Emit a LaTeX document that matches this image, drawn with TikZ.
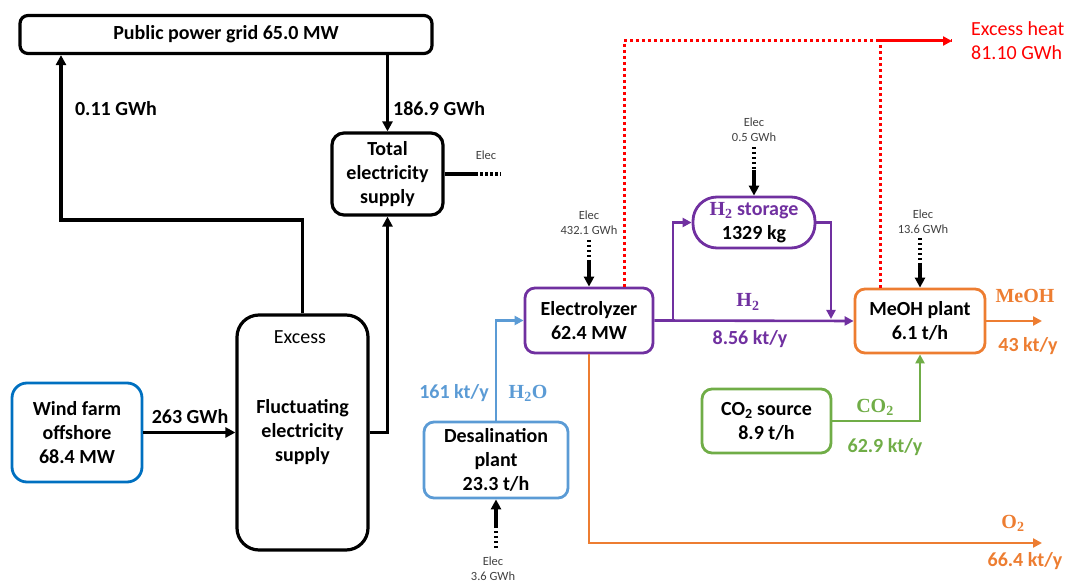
\documentclass[tikz,border=0pt]{standalone}
\usepackage{fontspec}
\setmainfont{Carlito}
\newfontfamily\chemfont{Liberation Serif}
\usetikzlibrary{arrows.meta}
\definecolor{cblue}{RGB}{0,112,192}
\definecolor{lblue}{RGB}{91,155,213}
\definecolor{cpurple}{RGB}{112,48,160}
\definecolor{corange}{RGB}{237,125,49}
\definecolor{cgreen}{RGB}{112,173,71}
\definecolor{cred}{RGB}{255,0,0}
\definecolor{cgray}{RGB}{64,64,64}
\newcommand{\chem}[1]{{\chemfont\bfseries #1}}
\begin{document}
\begin{tikzpicture}[x=1pt,y=-1pt,
  box/.style={draw, line width=3.2pt, rounded corners=10pt, align=center,
    font=\fontsize{20}{24}\selectfont\bfseries, inner sep=0pt},
  cbox/.style={box, line width=2.8pt},
  lbl/.style={font=\fontsize{20}{24}\selectfont\bfseries, inner sep=0pt},
  clbl/.style={font=\fontsize{20}{24}\selectfont, inner sep=0pt},
  elabel/.style={font=\fontsize{12.5}{15}\selectfont, text=cgray, align=center, inner sep=0pt},
  blk/.style={line width=3.2pt, -{Triangle[length=10pt,width=10pt]}},
  blkline/.style={line width=3.2pt},
  col/.style={line width=2.6pt, -{Triangle[length=9pt,width=9pt]}},
  dotln/.style={line width=3.2pt, dash pattern=on 2.5pt off 2.5pt},
  reddot/.style={line width=3pt, cred, dash pattern=on 3pt off 3pt},
]
\useasboundingbox (0,0) rectangle (1072,585);

% boxes
\node[box, rounded corners=8pt, minimum width=412pt, minimum height=38pt] (grid) at (226,34.5) {Public power grid 65.0 MW};
\node[box, rounded corners=12pt, minimum width=111pt, minimum height=82pt] (total) at (387.5,174) {Total\\electricity\\supply};
\node[box, rounded corners=22pt, minimum width=131pt, minimum height=235pt] (fluct) at (302.5,432.5) {Fluctuating\\electricity\\supply};
\node[clbl] (excess) at (300,337) {Excess};
\node[cbox, draw=cblue, rounded corners=15pt, minimum width=130pt, minimum height=99pt] (wind) at (77,432.5) {Wind farm\\offshore\\68.4 MW};
\node[cbox, draw=lblue, minimum width=144pt, minimum height=76pt] (desal) at (496,460) {Desalination\\plant\\23.3 t/h};
\node[cbox, draw=cpurple, minimum width=128pt, minimum height=65pt] (elec) at (589,320.5) {Electrolyzer\\62.4 MW};
\node[cbox, draw=cpurple, rounded corners=24pt, minimum width=122pt, minimum height=51pt] (h2s) at (754,222.5) {\textcolor{cpurple}{\chem{H\textsubscript{2}} storage}\\1329 kg};
\node[cbox, draw=corange, minimum width=130pt, minimum height=64pt] (meoh) at (920,321) {MeOH plant\\6.1 t/h};
\node[cbox, draw=cgreen, minimum width=129pt, minimum height=64pt] (co2) at (766.5,421) {CO\textsubscript{2} source\\8.9 t/h};

% black connectors
\coordinate (g1) at (61,220);
\draw[blk] (fluct.north) |- (g1) -- (g1 |- grid.south);
\draw[blk] (grid.south -| total.north) -- (total.north);
\draw[blk] (fluct.east) -| (total.south);
\draw[blk] (wind.east) -- (fluct.west);
\coordinate (te1) at (475,174);
\coordinate (te2) at (501,174);
\draw[blkline] (total.east) -- (te1);
\draw[dotln] (te1) -- (te2);
\node[elabel] (telab) at (486,155) {Elec};

% labels black
\node[lbl] (l011) at (116,109) {0.11 GWh};
\node[lbl, anchor=west] (l1869) at (393,109) {186.9 GWh};
\node[lbl] (l263) at (190,417) {263 GWh};

% colored connectors
\draw[col, lblue] (desal.north) |- (elec.west);
\draw[col, cpurple] (elec.east) -- (meoh.west);
\coordinate (j) at (673,320.5);
\draw[col, cpurple] (j) |- (h2s.west);
\coordinate (k) at (831,319);
\draw[col, cpurple] (h2s.east) -| (k);
\coordinate (mo) at (1042,321);
\draw[col, corange] (meoh.east) -- (mo);
\draw[col, cgreen] (co2.east) -| (meoh.south);
\coordinate (oo) at (1042,543);
\draw[col, corange] (elec.south) |- (oo);

% red excess heat
\coordinate (rh) at (952,41);
\draw[reddot, -{Triangle[length=9pt,width=9pt]}] ([xshift=35pt]elec.north) |- (rh);
\draw[reddot] ([xshift=-40pt]meoh.north) |- (rh);
\node[clbl, text=cred, anchor=west, align=left] (heat) at (971,41) {Excess heat\\81.10 GWh};

% Elec inputs
\coordinate (e1) at (589,240); \coordinate (e2) at (589,262);
\draw[dotln] (e1) -- (e2);
\draw[blk] (e2) -- (elec.north);
\node[elabel] (elab) at (589,222.5) {Elec\\432.1 GWh};

\coordinate (s1) at (754,147); \coordinate (s2) at (754,170);
\draw[dotln] (s1) -- (s2);
\draw[blk] (s2) -- (h2s.north);
\node[elabel] (slab) at (754,130) {Elec\\0.5 GWh};

\coordinate (m1) at (920,238); \coordinate (m2) at (920,263);
\draw[dotln] (m1) -- (m2);
\draw[blk] (m2) -- (meoh.north);
\node[elabel] (mlab) at (923,221.5) {Elec\\13.6 GWh};

\coordinate (d1) at (496,548); \coordinate (d2) at (496,527);
\draw[dotln] (d1) -- (d2);
\draw[blk] (d2) -- (desal.south);
\node[elabel] (dlab) at (493,568.5) {Elec\\3.6 GWh};

% colored labels
\node[lbl, text=lblue] (l161) at (454,393) {161 kt/y};
\node[lbl, text=lblue] (lh2o) at (528,393) {\chem{H\textsubscript{2}O}};
\node[lbl, text=cpurple] (lh2) at (748,302) {\chem{H\textsubscript{2}}};
\node[lbl, text=cpurple] (l856) at (750,339) {8.56 kt/y};
\node[lbl, text=corange] (lmeoh) at (1025,296) {\chem{MeOH}};
\node[lbl, text=corange] (l43) at (1028,346) {43 kt/y};
\node[lbl, text=cgreen] (lco2) at (875,407) {\chem{CO\textsubscript{2}}};
\node[lbl, text=cgreen] (l629) at (885,447) {62.9 kt/y};
\node[lbl, text=corange] (lo2) at (1013,523) {\chem{O\textsubscript{2}}};
\node[lbl, text=corange] (l664) at (1025,561) {66.4 kt/y};
\end{tikzpicture}
\end{document}
